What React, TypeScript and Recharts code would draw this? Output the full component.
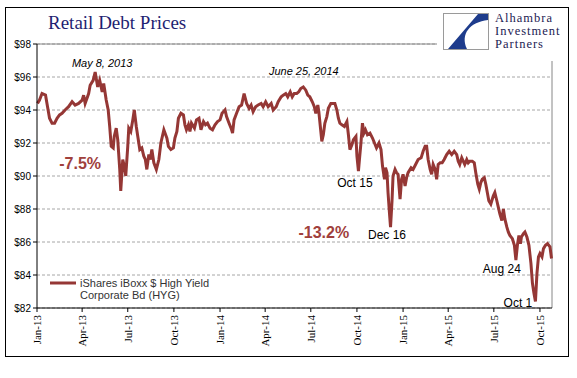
import { LineChart, Line, XAxis, YAxis, CartesianGrid, ReferenceLine, ReferenceDot } from 'recharts'

const dates = [
  '2013-01-02', '2013-01-06', '2013-01-11', '2013-01-18', '2013-01-22', '2013-01-26', '2013-01-31',
  '2013-02-05', '2013-02-10', '2013-02-15', '2013-02-20', '2013-02-26',
  '2013-03-05', '2013-03-12', '2013-03-18', '2013-03-25',
  '2013-04-01', '2013-04-04', '2013-04-07', '2013-04-14', '2013-04-17', '2013-04-23', '2013-04-27',
  '2013-05-02', '2013-05-06', '2013-05-11', '2013-05-14', '2013-05-19', '2013-05-23', '2013-05-26', '2013-05-29',
  '2013-06-02', '2013-06-04', '2013-06-08', '2013-06-11', '2013-06-15', '2013-06-17', '2013-06-21', '2013-06-24', '2013-06-27',
  '2013-07-01', '2013-07-03', '2013-07-07', '2013-07-11', '2013-07-14', '2013-07-18', '2013-07-21', '2013-07-25', '2013-07-29',
  '2013-08-02', '2013-08-05', '2013-08-08', '2013-08-12', '2013-08-15', '2013-08-18', '2013-08-22', '2013-08-27',
  '2013-09-01', '2013-09-05', '2013-09-11', '2013-09-17', '2013-09-20', '2013-09-25', '2013-09-30',
  '2013-10-03', '2013-10-07', '2013-10-10', '2013-10-15', '2013-10-20', '2013-10-23', '2013-10-26', '2013-10-30',
  '2013-11-02', '2013-11-05', '2013-11-11', '2013-11-15', '2013-11-20', '2013-11-24', '2013-11-29',
  '2013-12-03', '2013-12-07', '2013-12-12', '2013-12-17', '2013-12-22', '2013-12-27',
  '2014-01-01', '2014-01-05', '2014-01-11', '2014-01-14', '2014-01-19', '2014-01-23', '2014-01-26', '2014-01-29',
  '2014-02-03', '2014-02-08', '2014-02-13', '2014-02-18', '2014-02-23', '2014-02-28',
  '2014-03-04', '2014-03-08', '2014-03-13', '2014-03-18', '2014-03-24', '2014-03-28',
  '2014-04-02', '2014-04-07', '2014-04-13', '2014-04-17', '2014-04-23', '2014-04-27',
  '2014-05-03', '2014-05-07', '2014-05-12', '2014-05-16', '2014-05-21', '2014-05-25', '2014-05-29',
  '2014-06-03', '2014-06-07', '2014-06-11', '2014-06-16', '2014-06-21', '2014-06-25', '2014-06-29',
  '2014-07-04', '2014-07-08', '2014-07-11', '2014-07-15', '2014-07-17', '2014-07-20', '2014-07-23', '2014-07-26', '2014-07-29',
  '2014-08-02', '2014-08-05', '2014-08-10', '2014-08-15', '2014-08-18', '2014-08-22', '2014-08-25', '2014-08-28',
  '2014-09-01', '2014-09-06', '2014-09-11', '2014-09-14', '2014-09-17', '2014-09-21', '2014-09-24', '2014-09-29',
  '2014-10-01', '2014-10-04', '2014-10-06', '2014-10-09', '2014-10-12', '2014-10-15', '2014-10-18', '2014-10-22', '2014-10-27',
  '2014-11-01', '2014-11-05', '2014-11-09', '2014-11-14', '2014-11-18', '2014-11-21', '2014-11-25', '2014-11-27', '2014-11-30',
  '2014-12-02', '2014-12-05', '2014-12-07', '2014-12-10', '2014-12-12', '2014-12-16', '2014-12-19', '2014-12-22', '2014-12-26', '2014-12-29',
  '2015-01-01', '2015-01-05', '2015-01-08', '2015-01-11', '2015-01-17', '2015-01-21', '2015-01-26', '2015-01-31',
  '2015-02-06', '2015-02-10', '2015-02-14', '2015-02-17', '2015-02-20', '2015-02-24', '2015-02-27',
  '2015-03-02', '2015-03-06', '2015-03-09', '2015-03-12', '2015-03-16', '2015-03-20', '2015-03-24', '2015-03-29',
  '2015-04-03', '2015-04-08', '2015-04-13', '2015-04-18', '2015-04-21', '2015-04-24', '2015-04-28',
  '2015-05-01', '2015-05-04', '2015-05-08', '2015-05-11', '2015-05-14', '2015-05-19', '2015-05-23', '2015-05-26', '2015-05-30',
  '2015-06-02', '2015-06-05', '2015-06-08', '2015-06-12', '2015-06-15', '2015-06-18', '2015-06-21', '2015-06-25', '2015-06-30',
  '2015-07-03', '2015-07-07', '2015-07-10', '2015-07-13', '2015-07-17', '2015-07-20', '2015-07-23', '2015-07-27', '2015-07-30',
  '2015-08-02', '2015-08-07', '2015-08-11', '2015-08-14', '2015-08-17', '2015-08-20', '2015-08-23', '2015-08-25', '2015-08-29',
  '2015-09-01', '2015-09-05', '2015-09-09', '2015-09-13', '2015-09-16', '2015-09-19', '2015-09-22', '2015-09-25', '2015-09-28',
  '2015-10-01', '2015-10-05', '2015-10-08', '2015-10-12', '2015-10-16', '2015-10-21', '2015-10-24',
]

const prices = [
  94.4, 94.6, 95.0, 94.9, 94.2, 93.5, 93.2,
  93.2, 93.5, 93.7, 93.8, 94.0,
  94.2, 94.5, 94.3, 94.4,
  94.6, 94.9, 94.4, 95.0, 95.5, 95.8, 96.3,
  95.4, 95.8, 95.1, 95.6, 94.6, 94.0, 93.0, 91.8,
  91.7, 92.4, 92.9, 92.2, 90.4, 89.1, 91.0, 90.6, 90.0,
  91.8, 92.9, 92.7, 93.4, 94.0, 93.0, 92.4, 91.6, 91.7,
  91.2, 91.0, 90.4, 91.3, 91.0, 91.6, 90.8, 90.4,
  91.0, 92.0, 92.8, 92.3, 91.8, 91.6, 91.7,
  92.3, 92.7, 93.5, 93.8, 93.7, 93.1, 92.8, 93.1,
  92.7, 93.2, 92.9, 93.4, 93.5, 92.8, 93.3,
  93.1, 93.2, 92.9, 92.8, 93.1, 93.3,
  93.4, 93.8, 94.0, 93.6, 93.2, 92.9, 92.6, 93.4,
  93.8, 94.2, 94.3, 95.0, 94.4, 94.1,
  94.3, 93.9, 94.2, 94.3, 94.4, 94.2,
  94.5, 94.2, 94.4, 94.0, 94.2, 94.5,
  94.8, 94.9, 95.0, 94.8, 95.1, 94.8, 95.0,
  95.0, 95.1, 95.3, 95.4, 95.2, 94.9, 94.8,
  94.5, 94.2, 93.8, 94.3, 93.9, 93.0, 92.1, 92.5, 93.2,
  93.6, 94.1, 94.4, 94.4, 94.4, 94.0, 93.5, 93.2,
  93.1, 93.0, 93.3, 92.5, 91.6, 91.9, 92.2, 92.4,
  91.2, 90.3, 91.0, 92.0, 93.2, 92.6, 92.8, 92.5, 92.6,
  92.3, 92.0, 91.7, 92.0, 91.6, 90.6, 89.8, 90.5, 90.2,
  89.0, 87.7, 86.9, 88.5, 90.0, 90.4, 90.2, 90.1, 88.6, 89.8,
  90.1, 89.4, 89.9, 90.2, 90.5, 90.4, 90.7, 91.0,
  91.1, 91.5, 91.8, 91.8, 91.0, 90.4, 90.1,
  90.7, 90.4, 89.8, 90.7, 90.8, 90.8, 91.0, 91.3,
  91.5, 91.3, 91.5, 91.3, 90.9, 90.7, 91.1,
  90.9, 90.7, 91.0, 90.8, 90.9, 90.9, 90.8, 90.2, 89.5,
  89.2, 89.6, 89.8, 89.9, 89.5, 89.0, 88.5, 88.3, 88.8,
  89.0, 88.5, 88.1, 87.7, 87.3, 88.0, 87.4, 86.9, 86.6,
  86.4, 86.2, 85.8, 84.9, 85.8, 86.4, 85.9, 86.3, 86.5,
  86.6, 86.3, 85.8, 84.7, 83.5, 82.9, 82.4, 84.1, 85.1,
  85.3, 85.1, 85.6, 85.8, 85.9, 85.7, 85.0,
]

const tickDates = [
  '2013-01-01', '2013-04-01', '2013-07-01', '2013-10-01',
  '2014-01-01', '2014-04-01', '2014-07-01', '2014-10-01',
  '2015-01-01', '2015-04-01', '2015-07-01', '2015-10-01',
]
const tickLabels = ['Jan-13', 'Apr-13', 'Jul-13', 'Oct-13', 'Jan-14', 'Apr-14', 'Jul-14', 'Oct-14', 'Jan-15', 'Apr-15', 'Jul-15', 'Oct-15']

const priceTicks = [82, 84, 86, 88, 90, 92, 94, 96, 98]

const annotationText = ['May 8, 2013', '-7.5%', 'June 25, 2014', 'Oct 15', '-13.2%', 'Dec 16', 'Aug 24', 'Oct 1']
const annotationDates = ['2013-05-11', '2013-03-28', '2014-06-17', '2014-09-27', '2014-07-27', '2014-11-30', '2015-07-17', '2015-08-18']
const annotationPrices = [96.6, 90.42, 96.12, 89.33, 86.24, 86.18, 84.12, 82.06]
const annotationKind = ['date', 'pct', 'date', 'plain', 'pct', 'plain', 'plain', 'plain']

const LINE = '#953735'
const domainStart = Date.parse('2013-01-01')
const domainEnd = Date.parse('2015-10-25')

const data = dates.map((d, i) => ({ t: Date.parse(d), price: prices[i] }))
const ticks = tickDates.map((d) => Date.parse(d))

function XTick(props: any) {
  const { x, y, payload } = props
  const idx = ticks.indexOf(payload.value)
  return (
    <text
      x={x}
      y={y + 1}
      transform={`rotate(-90, ${x}, ${y + 1})`}
      textAnchor="end"
      dy="0.35em"
      fontFamily="'Liberation Serif', serif"
      fontSize={11}
      fill="#000"
    >
      {tickLabels[idx]}
    </text>
  )
}

function annotationShape(text: string, kind: string) {
  return (p: any) => {
    if (kind === 'pct') {
      return (
        <text x={p.cx} y={p.cy} textAnchor="middle" fontFamily="'Liberation Sans', Arial, sans-serif" fontWeight="bold" fontSize={16} fill="#a0403c">
          {text}
        </text>
      )
    }
    return (
      <text
        x={p.cx}
        y={p.cy}
        textAnchor="middle"
        fontFamily="'Liberation Sans', Arial, sans-serif"
        fontStyle={kind === 'date' ? 'italic' : 'normal'}
        fontSize={kind === 'date' ? 11 : 12}
        fill="#000"
      >
        {text}
      </text>
    )
  }
}

function Logo() {
  return (
    <svg width={577} height={378} style={{ position: 'absolute', left: 0, top: 0, pointerEvents: 'none' }}>
      <rect x={437} y={8} width={130} height={53} fill="#fff" />
      <rect x={443.5} y={13.5} width={45} height={36} fill="#fff" stroke="#9a9a9a" />
      <path d="M 478 14 L 488 14 L 488 20 C 470 22 460 34 467 49 L 448 49 Z" fill="#1e3c8c" />
      <g fontFamily="'Liberation Serif', serif" fontSize={12.5} letterSpacing={1} fill="#1c2152">
        <text x={495} y={22}>Alhambra</text>
        <text x={495} y={35}>Investment</text>
        <text x={495} y={48}>Partners</text>
      </g>
      <text x={48} y={29} fontFamily="'Liberation Serif', serif" fontSize={19} fill="#1f1f72">
        Retail Debt Prices
      </text>
      <line x1={50} y1={283} x2={76} y2={283} stroke={LINE} strokeWidth={3} />
      <g fontFamily="'Liberation Sans', Arial, sans-serif" fontSize={11} fill="#333">
        <text x={80} y={287}>iShares iBoxx $ High Yield</text>
        <text x={80} y={299}>Corporate Bd (HYG)</text>
      </g>
    </svg>
  )
}

export default function App() {
  return (
    <div style={{ position: 'absolute', left: 0, top: 0, width: 577, height: 378, background: '#fff' }}>
      <LineChart width={577} height={378} data={data} margin={{ top: 44, right: 25, bottom: 0, left: 0 }}>
        <CartesianGrid vertical={false} stroke="#a6a6a6" strokeDasharray="3 2" />
        <ReferenceLine y={98} stroke="#868686" />
        <ReferenceLine x={domainEnd} stroke="#868686" />
        <XAxis
          dataKey="t"
          type="number"
          scale="linear"
          domain={[domainStart, domainEnd]}
          ticks={ticks}
          tick={<XTick />}
          tickSize={4}
          height={70}
          axisLine={{ stroke: '#000' }}
          tickLine={{ stroke: '#000' }}
          interval={0}
        />
        <YAxis
          domain={[82, 98]}
          ticks={priceTicks}
          tickFormatter={(v: number) => `$${v}`}
          width={37}
          tickSize={4}
          axisLine={{ stroke: '#000' }}
          tickLine={{ stroke: '#000' }}
          tick={{ fill: '#000', fontSize: 10, fontFamily: "'Liberation Sans', Arial, sans-serif" }}
          interval={0}
        />
        <Line type="linear" dataKey="price" stroke={LINE} strokeWidth={3} dot={false} isAnimationActive={false} />
        {annotationText.map((text, i) => (
          <ReferenceDot
            key={text}
            x={Date.parse(annotationDates[i])}
            y={annotationPrices[i]}
            r={0}
            shape={annotationShape(text, annotationKind[i])}
          />
        ))}
      </LineChart>
      <Logo />
      <div
        style={{
          position: 'absolute',
          left: 5,
          top: 7,
          width: 564,
          height: 350,
          border: '1px solid #000',
          boxSizing: 'border-box',
          pointerEvents: 'none',
        }}
      />
    </div>
  )
}
